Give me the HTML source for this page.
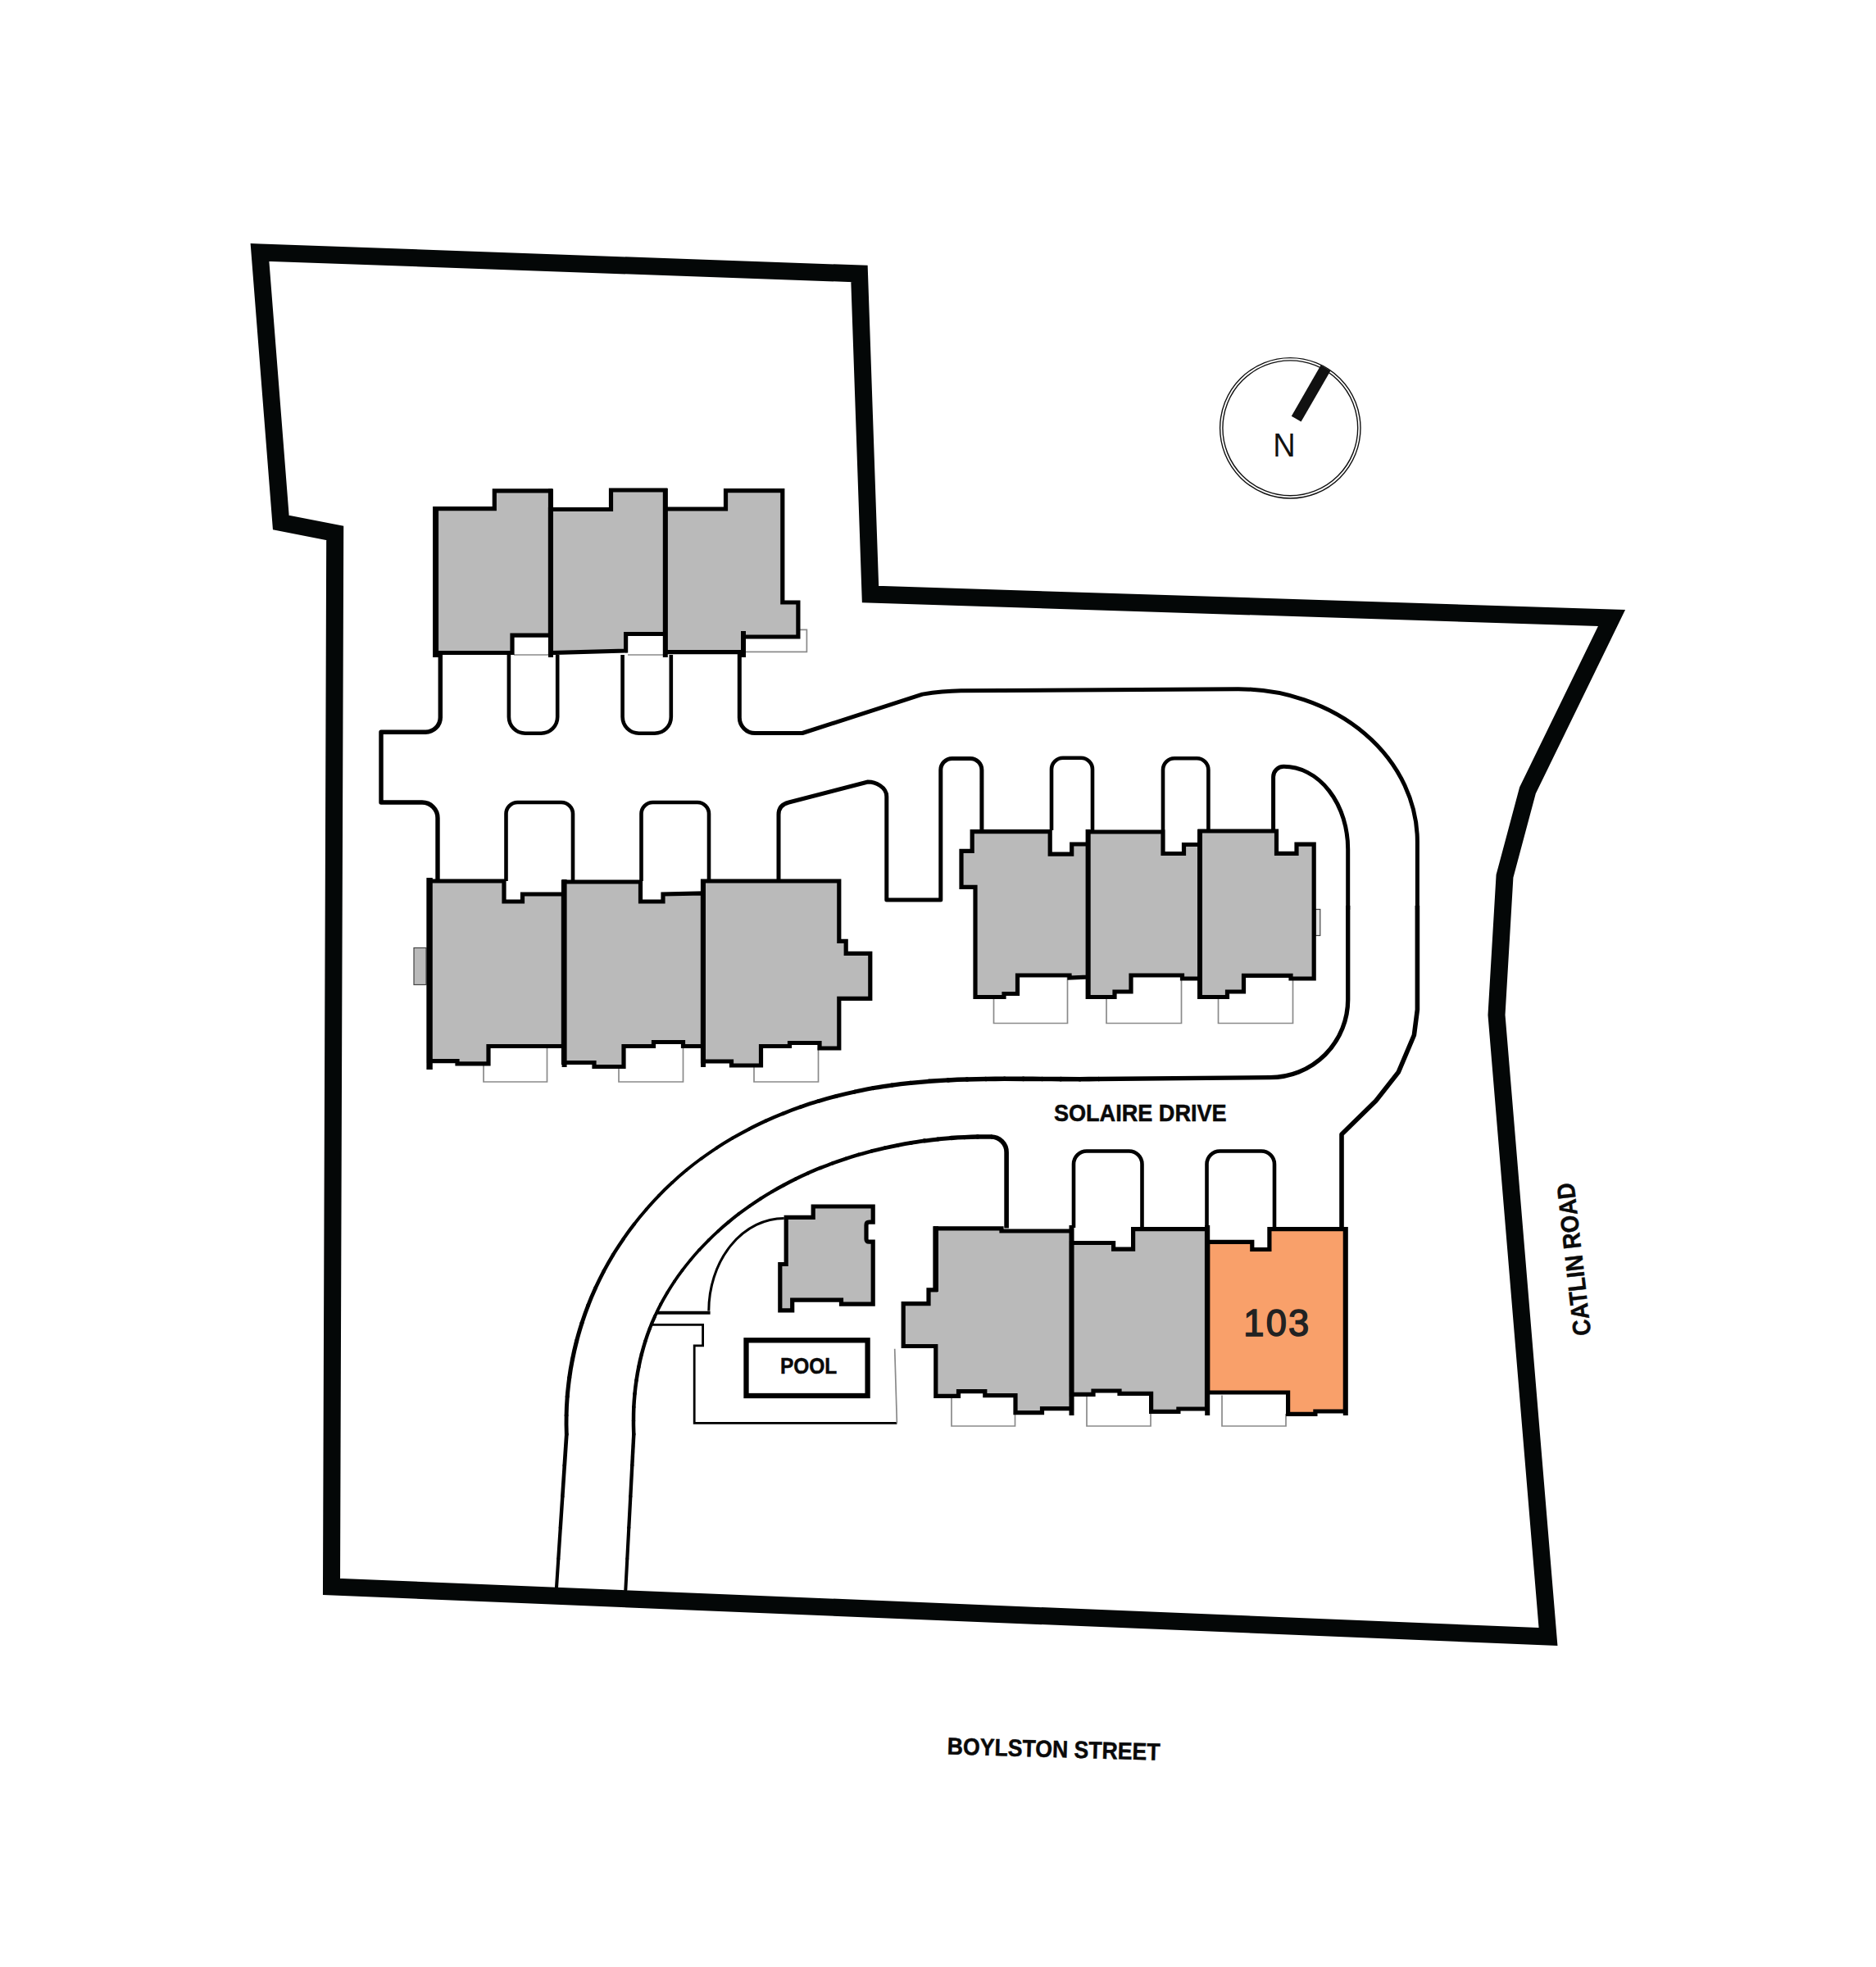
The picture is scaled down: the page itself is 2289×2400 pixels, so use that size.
<!DOCTYPE html>
<html>
<head>
<meta charset="utf-8">
<title>Site Plan</title>
<style>
html,body{margin:0;padding:0;background:#fff;}
body{width:2289px;height:2400px;overflow:hidden;font-family:"Liberation Sans",sans-serif;}
svg{display:block;}
text{font-family:"Liberation Sans",sans-serif;}
.bd{fill:none;stroke:#040707;stroke-width:21;stroke-linejoin:miter;stroke-miterlimit:10;}
.rd{fill:none;stroke:#000;stroke-width:4.6;stroke-linejoin:round;stroke-linecap:butt;}
.w{fill:none;stroke:#000;stroke-width:6;}
.b{fill:#bababa;stroke:#000;stroke-width:5.2;stroke-linejoin:miter;}
.o{fill:#f9a06a;stroke:#000;stroke-width:5.2;stroke-linejoin:miter;}
.pt{fill:none;stroke:#8a8a8a;stroke-width:1.7;}
.gs{fill:#bababa;stroke:#444;stroke-width:1.2;}
.lbl{font-weight:bold;fill:#0a0a0a;stroke:#0a0a0a;stroke-width:0.5;}
</style>
</head>
<body>
<svg width="2289" height="2400" viewBox="0 0 2289 2400">
<rect width="2289" height="2400" fill="#fff"/>
<g id="roads" class="rd">
<path d="M537.3 799 V875.2 A18 18 0 0 1 519.3 893.2 H465 V979 H515 A19 19 0 0 1 534 998 V1075" style="stroke-width:5.4"/>
<path d="M620.9 799 V874.8 A20 20 0 0 0 640.9 894.8 H660.2 A20 20 0 0 0 680.2 874.8 V799"/>
<path d="M759.6 799 V874.8 A20 20 0 0 0 779.6 894.8 H798.8 A20 20 0 0 0 818.8 874.8 V799"/>
<path d="M902.3 797 V875.5 A19 19 0 0 0 921.3 894.5 H979 L1125.4 847.1 Q1150 843.2 1172.5 842.8 L1511 840.8 A218.4 186.2 0 0 1 1729.4 1027 V1110" style="stroke-width:5.0"/>
<path d="M1729.4 1105 V1231.8 L1725.4 1263 L1706.4 1307.9 L1678.7 1343.3 L1637 1383.9 V1498.5" style="stroke-width:5.6"/>
<path d="M617.5 1075 V993 A14 14 0 0 1 631.5 979 H685 A14 14 0 0 1 699 993 V1075"/>
<path d="M782.5 1075 V993 A14 14 0 0 1 796.5 979 H851 A14 14 0 0 1 865 993 V1075"/>
<path d="M950 1075 V994 Q950 982 962.5 979 L1059 954 C1068 954 1081.8 960 1081.8 972 V1098 H1147.8 V939.5 A14 14 0 0 1 1161.8 925.5 H1183.9 A14 14 0 0 1 1197.9 939.5 V1013" style="stroke-width:5.0"/>
<path d="M1283 1013 V938.8 A14 14 0 0 1 1297 924.8 H1319 A14 14 0 0 1 1333 938.8 V1013"/>
<path d="M1419 1013 V939.3 A14 14 0 0 1 1433 925.3 H1460.4 A14 14 0 0 1 1474.4 939.3 V1013"/>
<path d="M1553.6 1013 V948 A12.7 12.7 0 0 1 1566.3 935.3 A78.4 100.9 0 0 1 1644.7 1036.2 V1110" style="stroke-width:5.0"/>
<path d="M1644.7 1105 V1219.7 A95 95 0 0 1 1549.7 1314.6 L1340 1316.5" style="stroke-width:5.3"/>
<path d="M1228.1 1498.5 V1406 A19 19 0 0 0 1209.1 1387" style="stroke-width:5.6"/>
<path d="M1310 1498 V1420.5 A16 16 0 0 1 1326 1404.5 H1377.5 A16 16 0 0 1 1393.5 1420.5 V1498"/>
<path d="M1472.5 1498 V1420.5 A16 16 0 0 1 1488.5 1404.5 H1539 A16 16 0 0 1 1555 1420.5 V1498"/>
<path d="M1340.0 1316.5 C1332.4 1316.6 1324.9 1316.7 1317.3 1316.7" style="stroke-width:5.60;stroke-linecap:round"/>
<path d="M1317.3 1316.7 C1309.7 1316.7 1302.1 1316.7 1294.4 1316.6" style="stroke-width:5.60;stroke-linecap:round"/>
<path d="M1294.4 1316.6 C1286.8 1316.6 1279.2 1316.5 1271.6 1316.5" style="stroke-width:5.60;stroke-linecap:round"/>
<path d="M1271.6 1316.5 C1263.9 1316.4 1256.3 1316.4 1248.6 1316.4" style="stroke-width:5.60;stroke-linecap:round"/>
<path d="M1248.6 1316.4 C1241.0 1316.3 1233.4 1316.3 1225.7 1316.3" style="stroke-width:5.60;stroke-linecap:round"/>
<path d="M1225.7 1316.3 C1218.0 1316.4 1210.4 1316.4 1202.7 1316.5" style="stroke-width:5.60;stroke-linecap:round"/>
<path d="M1202.7 1316.5 C1195.1 1316.6 1187.4 1316.8 1179.8 1317.0" style="stroke-width:5.60;stroke-linecap:round"/>
<path d="M1179.8 1317.0 C1172.1 1317.2 1164.5 1317.5 1156.8 1317.9" style="stroke-width:5.54;stroke-linecap:round"/>
<path d="M1156.8 1317.9 C1149.2 1318.3 1141.6 1318.8 1133.9 1319.3" style="stroke-width:5.43;stroke-linecap:round"/>
<path d="M1133.9 1319.3 C1126.3 1319.9 1118.7 1320.6 1111.1 1321.3" style="stroke-width:5.31;stroke-linecap:round"/>
<path d="M1111.1 1321.3 C1103.5 1322.1 1095.9 1323.0 1088.3 1324.1" style="stroke-width:5.20;stroke-linecap:round"/>
<path d="M1088.3 1324.1 C1080.7 1325.1 1073.2 1326.3 1065.6 1327.6" style="stroke-width:5.11;stroke-linecap:round"/>
<path d="M1065.6 1327.6 C1058.1 1329.0 1050.5 1330.4 1043.0 1332.1" style="stroke-width:5.02;stroke-linecap:round"/>
<path d="M1043.0 1332.1 C1035.5 1333.7 1028.1 1335.4 1020.6 1337.4" style="stroke-width:4.93;stroke-linecap:round"/>
<path d="M1020.6 1337.4 C1013.2 1339.3 1005.8 1341.4 998.5 1343.6" style="stroke-width:4.84;stroke-linecap:round"/>
<path d="M998.5 1343.6 C991.1 1345.8 983.9 1348.2 976.6 1350.7" style="stroke-width:4.72;stroke-linecap:round"/>
<path d="M976.6 1350.7 C969.4 1353.2 962.3 1355.9 955.2 1358.8" style="stroke-width:4.57;stroke-linecap:round"/>
<path d="M955.2 1358.8 C948.1 1361.6 941.1 1364.6 934.1 1367.8" style="stroke-width:4.43;stroke-linecap:round"/>
<path d="M934.1 1367.8 C927.2 1371.0 920.3 1374.3 913.6 1377.8" style="stroke-width:4.29;stroke-linecap:round"/>
<path d="M913.6 1377.8 C906.8 1381.3 900.1 1385.0 893.5 1388.8" style="stroke-width:4.16;stroke-linecap:round"/>
<path d="M893.5 1388.8 C887.0 1392.6 880.5 1396.6 874.2 1400.8" style="stroke-width:4.03;stroke-linecap:round"/>
<path d="M874.2 1400.8 C867.8 1404.9 861.6 1409.3 855.4 1413.8" style="stroke-width:3.90;stroke-linecap:round"/>
<path d="M855.4 1413.8 C849.3 1418.3 843.3 1422.9 837.4 1427.8" style="stroke-width:3.81;stroke-linecap:round"/>
<path d="M837.4 1427.8 C831.6 1432.6 825.8 1437.6 820.3 1442.8" style="stroke-width:3.86;stroke-linecap:round"/>
<path d="M820.3 1442.8 C814.7 1448.0 809.2 1453.3 803.9 1458.8" style="stroke-width:3.91;stroke-linecap:round"/>
<path d="M803.9 1458.8 C798.6 1464.3 793.4 1469.9 788.5 1475.7" style="stroke-width:3.95;stroke-linecap:round"/>
<path d="M788.5 1475.7 C783.5 1481.4 778.6 1487.3 774.0 1493.4" style="stroke-width:4.00;stroke-linecap:round"/>
<path d="M774.0 1493.4 C769.3 1499.4 764.8 1505.6 760.5 1511.9" style="stroke-width:4.16;stroke-linecap:round"/>
<path d="M760.5 1511.9 C756.1 1518.2 752.0 1524.6 748.0 1531.1" style="stroke-width:4.32;stroke-linecap:round"/>
<path d="M748.0 1531.1 C744.1 1537.6 740.3 1544.2 736.7 1551.0" style="stroke-width:4.47;stroke-linecap:round"/>
<path d="M736.7 1551.0 C733.2 1557.7 729.8 1564.6 726.6 1571.5" style="stroke-width:4.61;stroke-linecap:round"/>
<path d="M726.6 1571.5 C723.4 1578.5 720.4 1585.5 717.7 1592.6" style="stroke-width:4.75;stroke-linecap:round"/>
<path d="M717.7 1592.6 C714.9 1599.7 712.4 1606.9 710.0 1614.2" style="stroke-width:4.89;stroke-linecap:round"/>
<path d="M710.0 1614.2 C707.7 1621.5 705.5 1628.8 703.6 1636.2" style="stroke-width:5.03;stroke-linecap:round"/>
<path d="M703.6 1636.2 C701.7 1643.6 700.0 1651.1 698.5 1658.6" style="stroke-width:5.18;stroke-linecap:round"/>
<path d="M698.5 1658.6 C697.0 1666.1 695.7 1673.6 694.7 1681.2" style="stroke-width:5.12;stroke-linecap:round"/>
<path d="M694.7 1681.2 C693.7 1688.8 692.8 1696.4 692.2 1704.0" style="stroke-width:5.03;stroke-linecap:round"/>
<path d="M692.2 1704.0 C691.6 1711.7 691.2 1719.3 691.1 1727.0" style="stroke-width:4.94;stroke-linecap:round"/>
<path d="M691.1 1727.0 C690.9 1734.7 691.0 1742.3 691.3 1750.0" style="stroke-width:4.85;stroke-linecap:round"/>
<path d="M691.3 1750.0 L688.8 1788.0" style="stroke-width:4.72;stroke-linecap:round"/>
<path d="M688.8 1788.0 L686.3 1826.0" style="stroke-width:4.56;stroke-linecap:round"/>
<path d="M686.3 1826.0 L683.8 1864.0" style="stroke-width:4.40;stroke-linecap:round"/>
<path d="M683.8 1864.0 L681.3 1902.0" style="stroke-width:4.24;stroke-linecap:round"/>
<path d="M681.3 1902.0 L678.8 1940.0" style="stroke-width:4.08;stroke-linecap:round"/>
<path d="M1209.0 1387.0 C1203.7 1386.9 1198.3 1387.0 1192.9 1387.0" style="stroke-width:5.54;stroke-linecap:round"/>
<path d="M1192.9 1387.0 C1187.5 1387.1 1182.2 1387.3 1176.8 1387.6" style="stroke-width:5.43;stroke-linecap:round"/>
<path d="M1176.8 1387.6 C1171.4 1387.8 1166.0 1388.1 1160.5 1388.5" style="stroke-width:5.32;stroke-linecap:round"/>
<path d="M1160.5 1388.5 C1155.1 1389.0 1149.7 1389.4 1144.3 1390.0" style="stroke-width:5.21;stroke-linecap:round"/>
<path d="M1144.3 1390.0 C1138.9 1390.6 1133.4 1391.2 1128.0 1391.9" style="stroke-width:5.10;stroke-linecap:round"/>
<path d="M1128.0 1391.9 C1122.6 1392.7 1117.2 1393.5 1111.8 1394.4" style="stroke-width:4.98;stroke-linecap:round"/>
<path d="M1111.8 1394.4 C1106.4 1395.2 1101.0 1396.2 1095.6 1397.3" style="stroke-width:4.87;stroke-linecap:round"/>
<path d="M1095.6 1397.3 C1090.2 1398.3 1084.8 1399.4 1079.4 1400.7" style="stroke-width:4.76;stroke-linecap:round"/>
<path d="M1079.4 1400.7 C1074.1 1401.9 1068.7 1403.2 1063.4 1404.6" style="stroke-width:4.65;stroke-linecap:round"/>
<path d="M1063.4 1404.6 C1058.1 1405.9 1052.8 1407.4 1047.5 1408.9" style="stroke-width:4.54;stroke-linecap:round"/>
<path d="M1047.5 1408.9 C1042.2 1410.5 1037.0 1412.1 1031.8 1413.8" style="stroke-width:4.47;stroke-linecap:round"/>
<path d="M1031.8 1413.8 C1026.5 1415.6 1021.4 1417.4 1016.2 1419.2" style="stroke-width:4.43;stroke-linecap:round"/>
<path d="M1016.2 1419.2 C1011.0 1421.1 1005.9 1423.1 1000.8 1425.1" style="stroke-width:4.40;stroke-linecap:round"/>
<path d="M1000.8 1425.1 C995.7 1427.2 990.7 1429.3 985.7 1431.6" style="stroke-width:4.36;stroke-linecap:round"/>
<path d="M985.7 1431.6 C980.7 1433.8 975.7 1436.1 970.8 1438.5" style="stroke-width:4.32;stroke-linecap:round"/>
<path d="M970.8 1438.5 C965.9 1440.9 961.1 1443.4 956.3 1446.0" style="stroke-width:4.28;stroke-linecap:round"/>
<path d="M956.3 1446.0 C951.4 1448.6 946.7 1451.2 942.0 1454.0" style="stroke-width:4.25;stroke-linecap:round"/>
<path d="M942.0 1454.0 C937.3 1456.7 932.6 1459.6 928.1 1462.5" style="stroke-width:4.21;stroke-linecap:round"/>
<path d="M928.1 1462.5 C923.5 1465.5 919.0 1468.5 914.5 1471.6" style="stroke-width:4.15;stroke-linecap:round"/>
<path d="M914.5 1471.6 C910.1 1474.7 905.7 1477.9 901.3 1481.2" style="stroke-width:4.08;stroke-linecap:round"/>
<path d="M901.3 1481.2 C897.0 1484.5 892.8 1487.9 888.6 1491.4" style="stroke-width:4.01;stroke-linecap:round"/>
<path d="M888.6 1491.4 C884.4 1494.8 880.3 1498.4 876.3 1502.1" style="stroke-width:3.94;stroke-linecap:round"/>
<path d="M876.3 1502.1 C872.3 1505.7 868.3 1509.5 864.5 1513.3" style="stroke-width:3.87;stroke-linecap:round"/>
<path d="M864.5 1513.3 C860.6 1517.2 856.9 1521.1 853.2 1525.1" style="stroke-width:3.80;stroke-linecap:round"/>
<path d="M853.2 1525.1 C849.5 1529.1 845.9 1533.2 842.5 1537.4" style="stroke-width:3.74;stroke-linecap:round"/>
<path d="M842.5 1537.4 C839.0 1541.6 835.6 1545.9 832.4 1550.2" style="stroke-width:3.72;stroke-linecap:round"/>
<path d="M832.4 1550.2 C829.1 1554.6 825.9 1559.0 822.9 1563.5" style="stroke-width:3.79;stroke-linecap:round"/>
<path d="M822.9 1563.5 C819.9 1568.0 817.0 1572.6 814.2 1577.2" style="stroke-width:3.86;stroke-linecap:round"/>
<path d="M814.2 1577.2 C811.4 1581.9 808.7 1586.6 806.2 1591.4" style="stroke-width:3.92;stroke-linecap:round"/>
<path d="M806.2 1591.4 C803.7 1596.2 801.3 1601.1 799.1 1606.0" style="stroke-width:3.98;stroke-linecap:round"/>
<path d="M799.1 1606.0 C796.8 1610.9 794.7 1615.9 792.8 1621.0" style="stroke-width:4.13;stroke-linecap:round"/>
<path d="M792.8 1621.0 C790.8 1626.1 789.0 1631.2 787.4 1636.4" style="stroke-width:4.29;stroke-linecap:round"/>
<path d="M787.4 1636.4 C785.8 1641.5 784.3 1646.8 782.9 1652.1" style="stroke-width:4.44;stroke-linecap:round"/>
<path d="M782.9 1652.1 C781.5 1657.3 780.3 1662.7 779.3 1668.0" style="stroke-width:4.50;stroke-linecap:round"/>
<path d="M779.3 1668.0 C778.2 1673.4 777.3 1678.8 776.5 1684.2" style="stroke-width:4.50;stroke-linecap:round"/>
<path d="M776.5 1684.2 C775.7 1689.6 775.0 1695.1 774.5 1700.6" style="stroke-width:4.50;stroke-linecap:round"/>
<path d="M774.5 1700.6 C774.0 1706.0 773.6 1711.5 773.3 1717.0" style="stroke-width:4.50;stroke-linecap:round"/>
<path d="M773.3 1717.0 C773.1 1722.5 773.0 1728.0 773.0 1733.5" style="stroke-width:4.50;stroke-linecap:round"/>
<path d="M773.0 1733.5 C772.9 1739.0 773.1 1744.5 773.3 1750.0" style="stroke-width:4.50;stroke-linecap:round"/>
<path d="M773.3 1750.0 L771.3 1788.0" style="stroke-width:4.45;stroke-linecap:round"/>
<path d="M771.3 1788.0 L769.3 1826.0" style="stroke-width:4.35;stroke-linecap:round"/>
<path d="M769.3 1826.0 L767.3 1864.0" style="stroke-width:4.25;stroke-linecap:round"/>
<path d="M767.3 1864.0 L765.3 1902.0" style="stroke-width:4.15;stroke-linecap:round"/>
<path d="M765.3 1902.0 L763.3 1940.0" style="stroke-width:4.05;stroke-linecap:round"/>
<path d="M956.7 1486.5 A92 113 0 0 0 864.8 1599.5" style="stroke-width:3"/>
<path d="M801.5 1601.7 H866.6" style="stroke-width:4"/>
<path d="M795.5 1616.4 H857.6 V1641.8 H847.2 V1736.4 H1094.4" style="stroke-width:2.8;stroke-linejoin:miter"/>
</g>
<g id="patios" class="pt">
<path d="M909 768.4 H984.4 V795.3 H909"/>
<path d="M627 799 H669 M766 799 H809"/>
<path d="M590 1300 V1320 H667.5 V1278.5"/>
<path d="M755 1301.5 V1320 H833.5 V1277"/>
<path d="M920 1300 V1320 H998.5 V1278"/>
<path d="M1212.5 1216.5 V1248.5 H1302.5 V1192"/>
<path d="M1350 1216.5 V1248.5 H1441.5 V1194"/>
<path d="M1486.5 1216.5 V1248.5 H1577.5 V1192"/>
<path d="M1161 1705 V1740 H1238.5 V1722"/>
<path d="M1326 1700 V1740 H1404 V1722"/>
<path d="M1491 1702.5 V1740 H1569 V1725"/>
<path d="M1094.4 1736.4 L1091.7 1645.8"/>
<rect class="gs" x="505" y="1156.5" width="15" height="45"/>
<rect class="gs" x="1604.8" y="1109.5" width="6" height="32" style="fill:#e4e4e4"/>
</g>
<g id="buildings">
<!-- Building A -->
<path class="b" d="M531.5 620.6 H603.3 V598.9 H671.5 V775.2 H625 V796.5 H531.5 Z"/>
<path class="b" d="M671.5 621.5 H745.5 V598 H811.8 V773.5 H763.6 V794 L671.5 796.5 Z"/>
<path class="b" d="M811.8 621 H885.5 V598.6 H954.8 V735 H973.9 V777 H907 V795.6 H811.8 Z"/>
<path class="w" d="M672 596.5 V802 M811.8 596 V802 M907 770 V802"/><path class="w" d="M531.6 618 V802" style="stroke-width:7"/>
<!-- Building B -->
<path class="b" d="M523.5 1075 H615 V1100 H637.5 V1091 H687.5 V1276.5 H596 V1297.8 H558 V1294.7 H523.5 Z"/>
<path class="b" d="M687.5 1076 H781.5 V1100 H809 V1091 L857.5 1090 V1276.5 H833.5 V1271.5 H797.5 V1276.5 H761 V1301.5 H725 V1296.5 H687.5 Z"/>
<path class="b" d="M857.5 1075 H1023.8 V1148.4 H1032.2 V1163.3 H1061.8 V1218.3 H1023.8 V1279 H1000 V1272.5 H963.5 V1276.5 H928.5 V1300 H892.5 V1295 H857.5 Z"/>
<path class="w" d="M688.6 1073 V1302 M858 1073 V1302"/><path class="w" d="M524.1 1071 V1305" style="stroke-width:7.4"/>
<!-- Building C -->
<path class="b" d="M1186.2 1014.6 H1281.2 V1042.1 H1307.7 V1030 H1327.6 V1192 L1305 1193 V1190 H1241.5 V1212.5 H1225 V1216.5 H1190 V1082.4 H1173 V1038.4 H1186.2 Z"/>
<path class="b" d="M1327.6 1015 H1419 V1041.5 H1444.5 V1030.5 H1464 V1194 H1442.5 V1190 H1380 V1210 H1360 V1216.5 H1327.6 Z"/>
<path class="b" d="M1464 1014 H1557.5 V1041.3 H1582 V1030.2 H1603.2 V1194 H1575 V1190.4 H1517.5 V1210 H1497.5 V1216.5 H1464 Z"/>
<path class="w" d="M1327.6 1012 V1219 M1464 1012 V1219"/>
<!-- Building D -->
<path class="b" d="M1141.5 1498.8 H1222 V1502 H1307.5 V1718.7 H1271.5 V1723.6 H1239 V1702.7 H1201.8 V1697.6 H1169.5 V1703.3 H1141.8 V1642.5 H1102.2 V1590.7 H1133 V1573.8 H1141.5 Z"/>
<path class="b" d="M1307.5 1516.5 H1358.6 V1524.2 H1382.6 V1499.6 H1472.5 V1719 H1437.9 V1722.4 H1404.6 V1700.4 H1366 V1697 H1334 V1701.4 H1307.5 Z"/>
<path class="o" d="M1473.6 1515.4 H1527.8 V1524.5 H1548.9 V1499.6 H1641.5 V1722 H1604.9 V1725.4 H1571.6 V1699 H1473.6 Z"/>
<path class="w" d="M1307.5 1495 V1727 M1473.2 1495 V1727 M1641.8 1497 V1727"/>
<path class="w" d="M1141.7 1496.2 V1576" style="stroke-width:6.6"/>
<!-- Clubhouse -->
<path class="b" d="M959.2 1485.4 H992.2 V1472 H1065.2 V1491.2 H1060.5 Q1057 1491.2 1057 1494.7 V1511.7 Q1057 1515.2 1060.5 1515.2 H1065.2 V1591.2 H1026.5 V1586.1 H966.7 V1598.8 H951.8 V1542.5 H959.2 Z"/>
<!-- Pool -->
<rect x="910.5" y="1635.3" width="148.1" height="67.7" fill="#fff" stroke="#000" stroke-width="6.3"/>
</g>
<path class="bd" d="M317 308 L1048.5 334 L1062 725 L1966.5 754 L1864 964.3 L1836 1069 L1826 1238.4 L1889 1997 L404.5 1936 L408.7 650.5 L342.8 637.5 Z"/>
<g id="compass">
<circle cx="1574.3" cy="522.3" r="85.7" fill="none" stroke="#111" stroke-width="1.4"/>
<circle cx="1574.3" cy="522.3" r="82.4" fill="none" stroke="#111" stroke-width="1.4"/>
<path d="M1575.8 507.7 L1587.5 514.6 L1623.4 452.5 L1611.6 445.5 Z" fill="#111"/>
<text x="1567" y="556.6" font-size="41.5" text-anchor="middle" fill="#111" textLength="27.4" lengthAdjust="spacingAndGlyphs">N</text>
</g>
<g id="labels">
<text class="lbl" x="986.6" y="1676" font-size="27.3" text-anchor="middle" textLength="69.4" lengthAdjust="spacingAndGlyphs">POOL</text>
<text class="lbl" x="1391.3" y="1367.5" font-size="29.2" text-anchor="middle" textLength="210.8" lengthAdjust="spacingAndGlyphs">SOLAIRE DRIVE</text>
<text class="lbl" transform="translate(1285.7 2134.1) rotate(1.6)" x="0" y="10" font-size="29.2" text-anchor="middle" textLength="260" lengthAdjust="spacingAndGlyphs">BOYLSTON STREET</text>
<text class="lbl" transform="translate(1920.4 1536.6) rotate(-96.5)" x="0" y="10.4" font-size="30.5" text-anchor="middle" textLength="187.5" lengthAdjust="spacingAndGlyphs">CATLIN ROAD</text>
<text x="1558.4" y="1630.4" font-size="45.3" text-anchor="middle" fill="#222" stroke="#222" stroke-width="1.5" letter-spacing="2.2">103</text>
</g>
</svg>
</body>
</html>
